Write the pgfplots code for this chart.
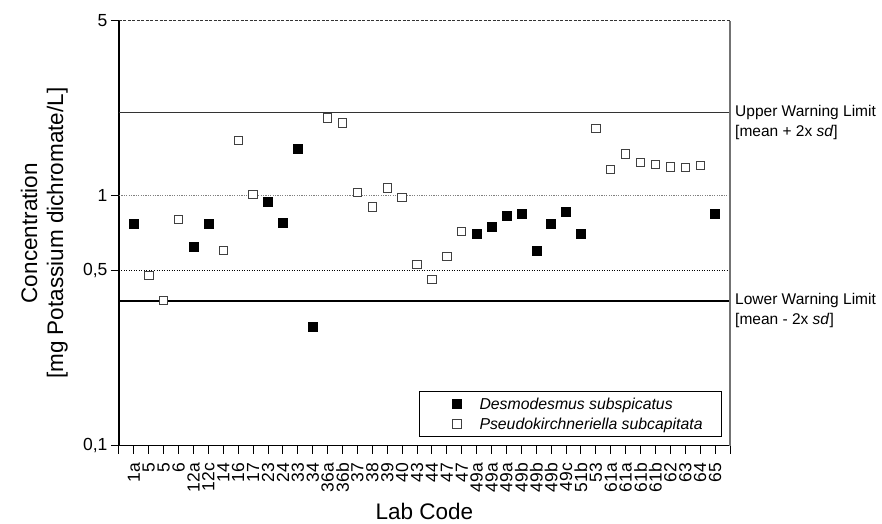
\documentclass[border=0pt]{standalone}
\usepackage{fontspec}
\setmainfont{Liberation Sans}
\usepackage{pgfplots}
\usepackage{pgfplotstable}
\pgfplotsset{compat=1.18}
\pgfplotstableread{
x y
0 0.773
4 0.624
5 0.773
9 0.944
10 0.780
11 1.54
12 0.299
23 0.703
24 0.752
25 0.832
26 0.845
27 0.603
28 0.773
29 0.863
30 0.703
39 0.845
}\desmo
\pgfplotstableread{
x y
1 0.480
2 0.380
3 0.802
6 0.603
7 1.664
8 1.01
13 2.04
14 1.95
15 1.031
16 0.901
17 1.073
18 0.982
19 0.531
20 0.461
21 0.572
22 0.720
31 1.853
32 1.274
33 1.468
34 1.355
35 1.33
36 1.302
37 1.294
38 1.321
}\pseudo
\begin{document}
\begin{tikzpicture}
\useasboundingbox (-119pt,-77.3pt) rectangle (763pt,445.7pt);
\begin{axis}[
  at={(0,0)}, anchor=south west,
  scale only axis, width=611pt, height=425pt,
  ymode=log, ymin=0.1, ymax=5, xmin=-1, xmax=40,
  axis x line*=bottom, axis y line*=left,
  axis line style={black, line width=1.1pt},
  xtick={-1,...,40},
  xticklabels={{},1a,5,5,6,12a,12c,14,16,17,23,24,33,34,36a,36b,37,38,39,40,43,44,47,47,49a,49a,49a,49b,49b,49b,49c,51b,53,61a,61a,61b,61b,62,63,64,65,{}},
  ytick={0.1,0.5,1,5}, yticklabels={{0,1},{0,5},1,5},
  yminorticks=false, xminorticks=false,
  tick align=outside, major tick length=8pt,
  tick style={black, line width=1pt},
  xticklabel shift=6pt,
  x tick label style={rotate=90, anchor=east, font=\fontsize{17.5}{20}\selectfont},
  y tick label style={font=\fontsize{17.5}{20}\selectfont},
  clip=false,
  xlabel={Lab Code},
  xlabel style={at={(axis description cs:0.5,-0.1736)}, anchor=base, inner sep=0pt, font=\fontsize{22.5}{26}\selectfont},
  ylabel={Concentration\\{[mg Potassium dichromate/L]}},
  ylabel style={at={(axis description cs:-0.0835,0.5)}, anchor=south, rotate=0, inner sep=0pt, align=center, font=\fontsize{22.5}{26}\selectfont},
  legend style={at={(1,0)}, anchor=south east, xshift=-8.5pt, yshift=8.5pt, draw=black, line width=0.8pt,
    font=\fontsize{15.8}{18}\selectfont, inner xsep=17pt, inner ysep=4.7pt, row sep=4pt,
    nodes={inner sep=1.5pt}, /tikz/every odd column/.append style={column sep=13pt}},
  legend image code/.code={\path[draw=none] (0cm,0cm) -- (1.0cm,0cm); \draw[#1, draw=none] plot coordinates {(0.72cm,0cm)};},
  legend cell align=left,
]
\addplot[forget plot, black!80, line width=1.2pt, dash pattern=on 3pt off 1.5pt] coordinates {(-1,5) (40,5)};
\addplot[forget plot, black!50, line width=1.1pt, dash pattern=on 1.2pt off 1.2pt] coordinates {(-1,1) (40,1)};
\addplot[forget plot, black, line width=0.9pt, dash pattern=on 1pt off 1.5pt] coordinates {(-1,0.5) (40,0.5)};
\addplot[forget plot, black!80, line width=1.2pt] coordinates {(-1,2.15) (40,2.15)};
\addplot[forget plot, black, line width=1.1pt] coordinates {(-1,0.379) (40,0.379)};
\addplot[forget plot, black!55, line width=1.5pt] coordinates {(40,0.1) (40,5)};
\addplot[only marks, mark=square*, mark size=4.5pt, mark options={fill=black, draw=black, line width=0.4pt}] table {\desmo};
\addlegendentry{\textit{Desmodesmus subspicatus}}
\addplot[only marks, mark=square*, mark size=4.2pt, mark options={fill=white, draw=black!75, line width=1pt}] table {\pseudo};
\addlegendentry{\textit{Pseudokirchneriella subcapitata}}
\node[anchor=base west, inner sep=0pt, xshift=5pt, yshift=-4pt, font=\fontsize{15.5}{18}\selectfont] at (axis cs:40,2.15) {Upper Warning Limit};
\node[anchor=base west, inner sep=0pt, xshift=5pt, yshift=-24pt, font=\fontsize{15.5}{18}\selectfont] at (axis cs:40,2.15) {[mean + 2x \textit{sd}]};
\node[anchor=base west, inner sep=0pt, xshift=5pt, yshift=-4pt, font=\fontsize{15.5}{18}\selectfont] at (axis cs:40,0.379) {Lower Warning Limit};
\node[anchor=base west, inner sep=0pt, xshift=5pt, yshift=-24pt, font=\fontsize{15.5}{18}\selectfont] at (axis cs:40,0.379) {[mean - 2x \textit{sd}]};
\end{axis}
\end{tikzpicture}
\end{document}
